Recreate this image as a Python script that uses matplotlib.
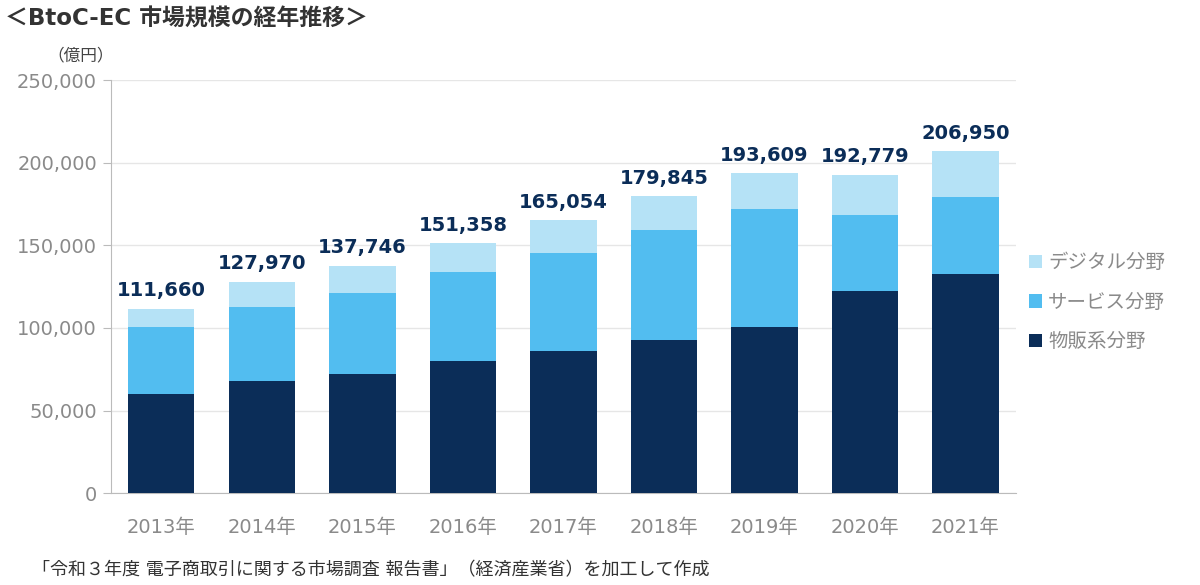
import matplotlib.pyplot as plt
import numpy as np

years = ['2013年', '2014年', '2015年', '2016年', '2017年', '2018年', '2019年', '2020年', '2021年']
buppan = [59931, 68043, 72398, 80043, 86008, 92992, 100515, 122333, 132865]   # 物販系分野
service = [40858, 44816, 49014, 53532, 59568, 66471, 71672, 45832, 46424]     # サービス分野
digital = [10871, 15111, 16334, 17783, 19478, 20382, 21422, 24614, 27661]     # デジタル分野
totals = ['111,660', '127,970', '137,746', '151,358', '165,054', '179,845', '193,609', '192,779', '206,950']
yticks = [0, 50000, 100000, 150000, 200000, 250000]

fonts = ['DejaVu Sans', 'Noto Sans CJK JP']
plt.rcParams['font.family'] = fonts

c_dark = '#0b2d58'
c_mid = '#52bdf0'
c_light = '#b5e2f6'
gray = '#8a8a8a'

fig = plt.figure(figsize=(12, 5.85), dpi=100)
ax = fig.add_axes([0.0925, 0.157, 0.754, 0.706])

x = np.arange(len(years))
w = 0.66
b1 = np.array(buppan)
b2 = b1 + np.array(service)
b3 = b2 + np.array(digital)

ax.bar(x, buppan, w, color=c_dark, label='物販系分野', zorder=3)
ax.bar(x, service, w, bottom=b1, color=c_mid, label='サービス分野', zorder=3)
ax.bar(x, digital, w, bottom=b2, color=c_light, label='デジタル分野', zorder=3)

for i in range(len(years)):
    ax.text(x[i], b3[i] + 5000, totals[i], ha='center', va='bottom',
            fontsize=14, fontweight='bold', color='#0b2d58')

ax.set_xlim(-0.5, len(years) - 0.5)
ax.set_ylim(0, 250000)
ax.set_yticks(yticks)
ax.set_yticklabels([f'{v:,}' for v in yticks], fontsize=14, color=gray)
ax.set_xticks(x)
ax.set_xticklabels(years, fontsize=14, color=gray)
ax.tick_params(axis='x', length=0, pad=18)
ax.tick_params(axis='y', length=6, color='#bbbbbb', pad=4)
ax.grid(axis='y', color='#e6e6e6', linewidth=1, zorder=0)
for s in ['top', 'right']:
    ax.spines[s].set_visible(False)
ax.spines['left'].set_color('#bbbbbb')
ax.spines['bottom'].set_color('#bbbbbb')

handles, labels = ax.get_legend_handles_labels()
leg = ax.legend(handles[::-1], labels[::-1], loc='center left', bbox_to_anchor=(0.995, 0.462),
                frameon=False, fontsize=14, handlelength=0.7, handleheight=0.7,
                handletextpad=0.3, labelspacing=1.05)
for t in leg.get_texts():
    t.set_color(gray)

fig.text(0.004, 0.967, '＜BtoC-EC 市場規模の経年推移＞', fontsize=16.5, fontweight='bold',
         color='#333333', va='center', ha='left')
fig.text(0.095, 0.905, '（億円）', fontsize=12, color='#444444', va='center', ha='right')
fig.text(0.027, 0.025, '「令和３年度 電子商取引に関する市場調査 報告書」（経済産業省）を加工して作成',
         fontsize=13, color='#333333', va='center', ha='left')

fig.savefig('out.png', dpi=100, facecolor='white')
